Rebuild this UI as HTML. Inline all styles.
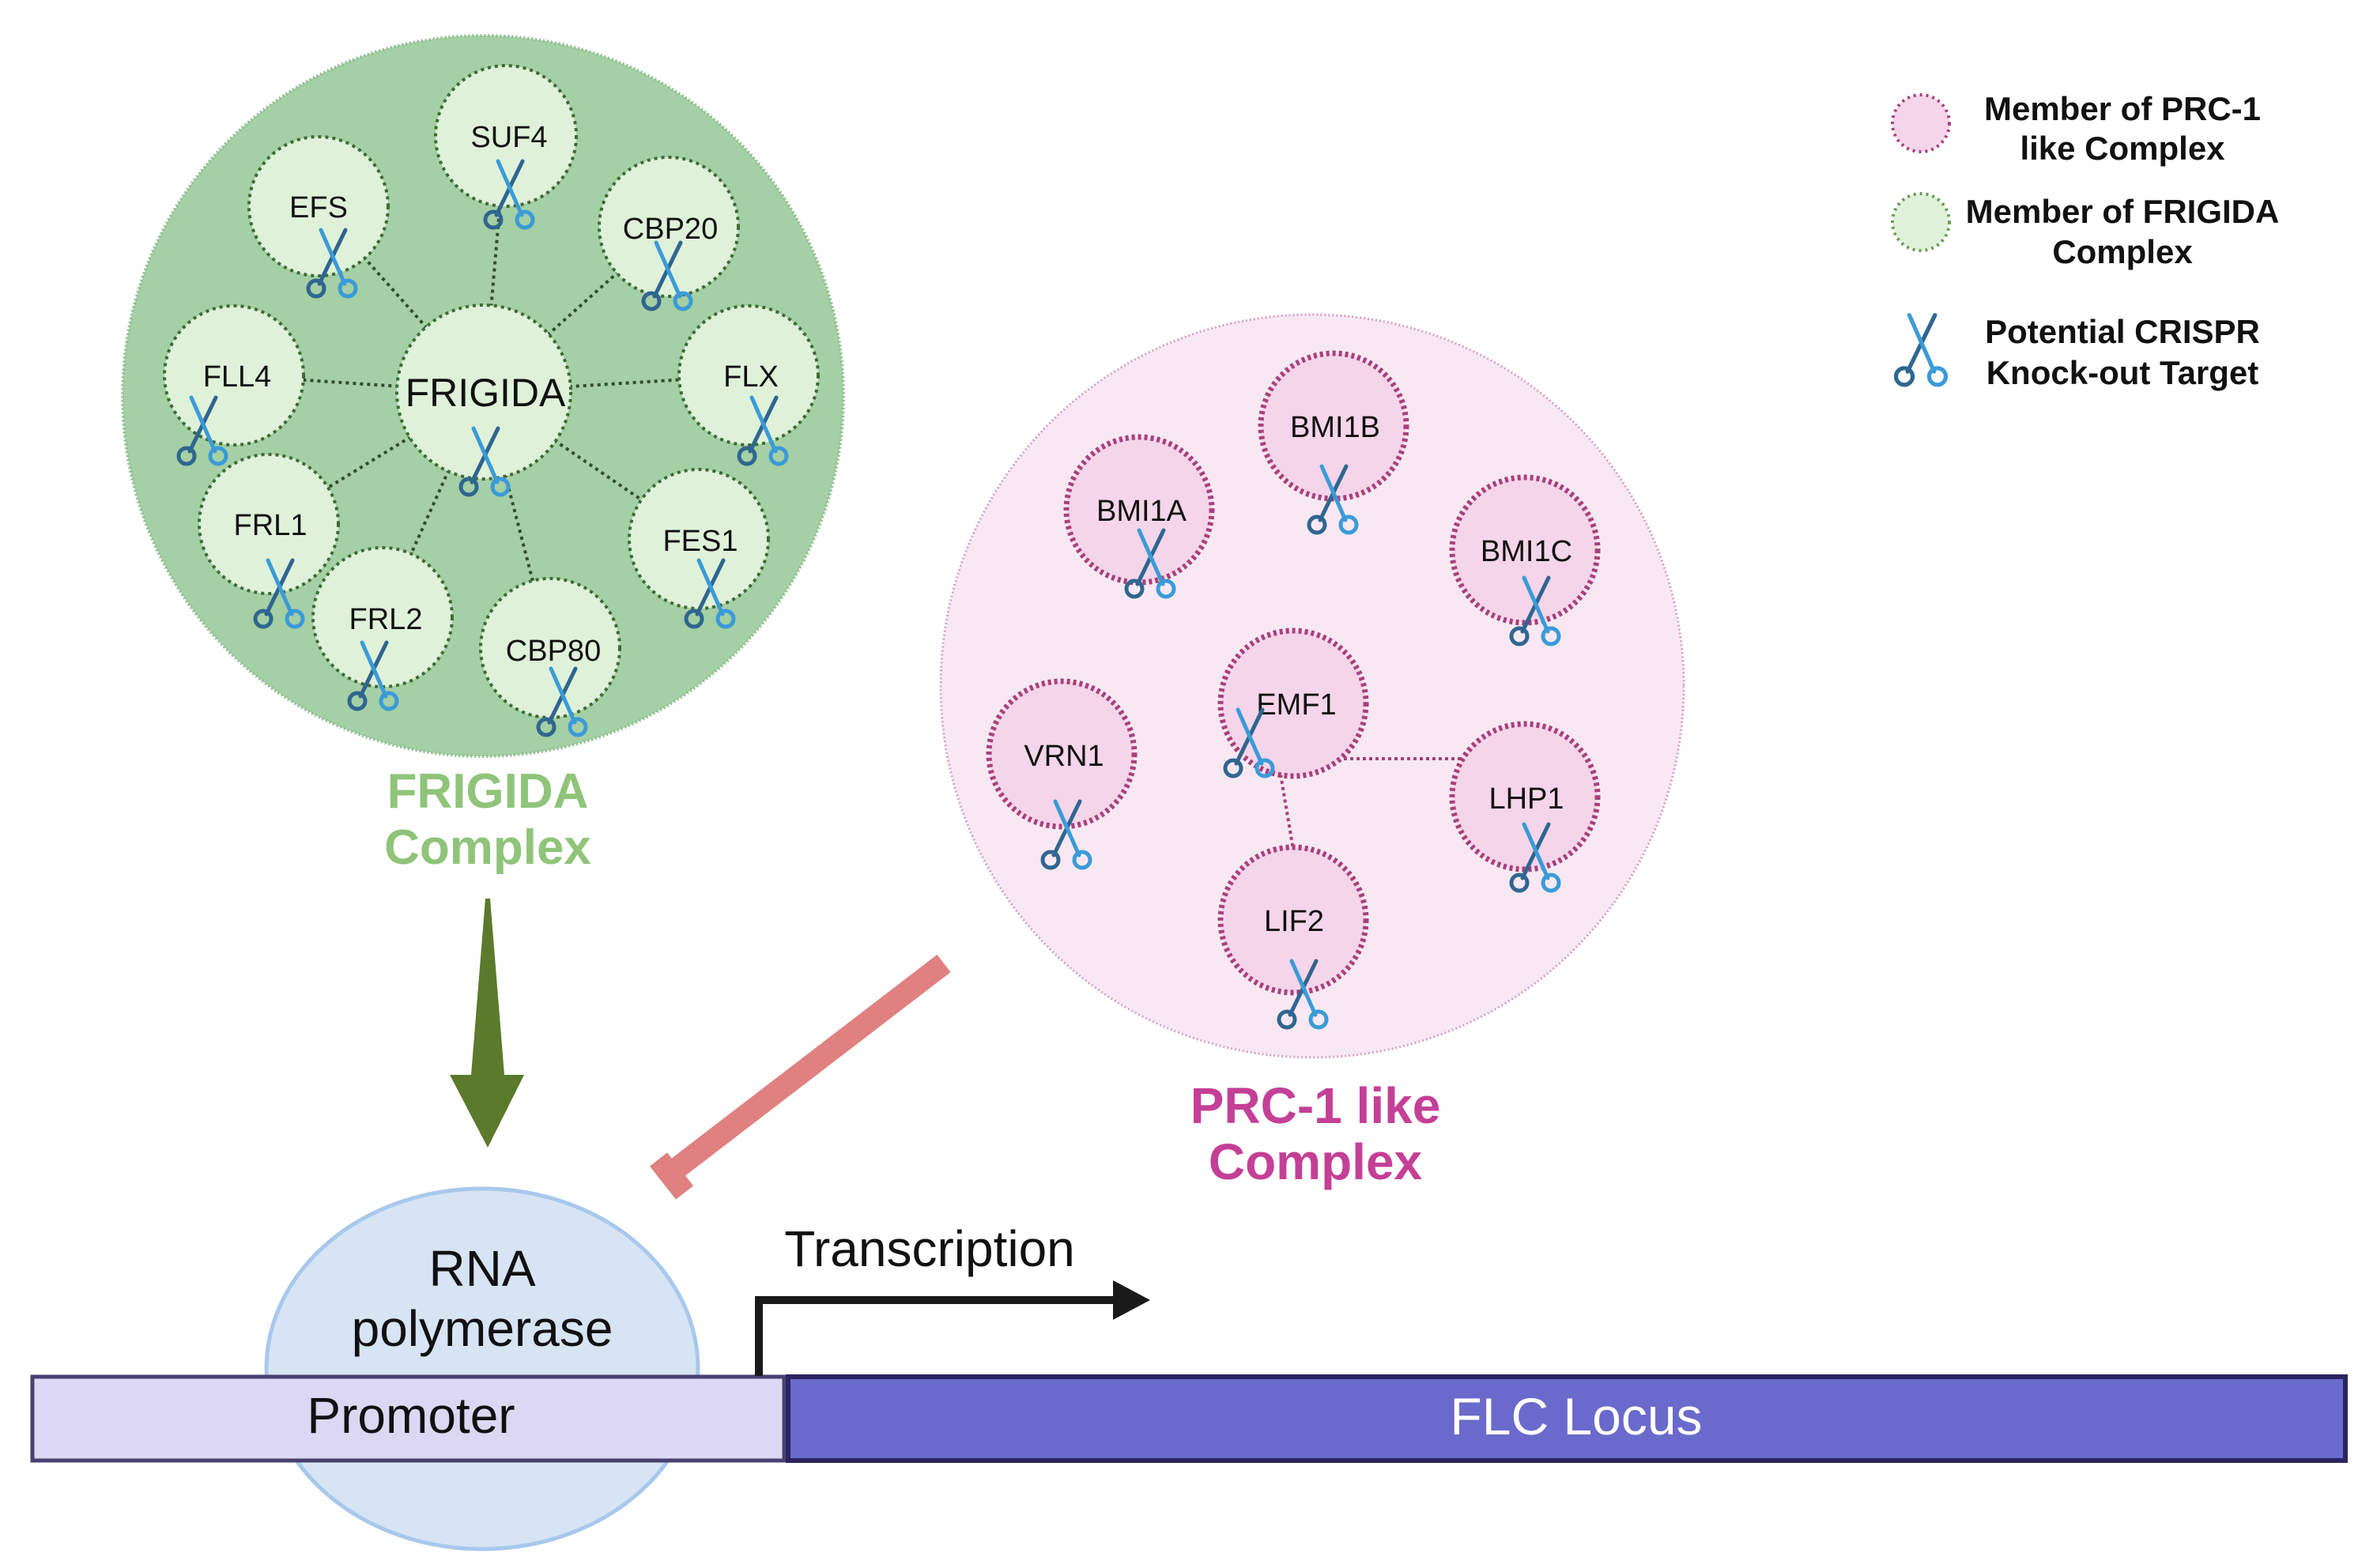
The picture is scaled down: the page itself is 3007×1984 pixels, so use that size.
<!DOCTYPE html>
<html><head><meta charset="utf-8"><style>html,body{margin:0;padding:0;background:#fff}svg{display:block}</style></head>
<body>
<svg width="3007" height="1984" viewBox="0 0 3007 1984" xmlns="http://www.w3.org/2000/svg" font-family="Liberation Sans, sans-serif">
<defs>
<g id="sc">
<line x1="17" y1="-46" x2="-16" y2="22" stroke="#2f6690" stroke-width="5" stroke-linecap="round"/>
<line x1="-14" y1="-46" x2="16" y2="22" stroke="#3a9bd8" stroke-width="5" stroke-linecap="round"/>
<circle cx="-20" cy="28" r="10" fill="none" stroke="#2f6690" stroke-width="5"/>
<circle cx="20" cy="28" r="10" fill="none" stroke="#3a9bd8" stroke-width="5"/>
</g>
</defs>

<!-- FRIGIDA complex -->
<circle cx="611" cy="501" r="456" fill="#a5cfa5" stroke="#8fbf8f" stroke-width="4" stroke-dasharray="2 3"/>
<g stroke="#2f4f2a" stroke-width="4" stroke-dasharray="4 5">
<line x1="612" y1="496" x2="403" y2="261"/><line x1="612" y1="496" x2="640" y2="172"/>
<line x1="612" y1="496" x2="846" y2="287"/><line x1="612" y1="496" x2="296" y2="475"/>
<line x1="612" y1="496" x2="947" y2="475"/><line x1="612" y1="496" x2="340" y2="663"/>
<line x1="612" y1="496" x2="884" y2="682"/><line x1="612" y1="496" x2="484" y2="781"/>
<line x1="612" y1="496" x2="696" y2="820"/>
</g>
<g fill="#dff2d9" stroke="#3d6b35" stroke-width="4" stroke-dasharray="4 5">
<circle cx="403" cy="261" r="88"/><circle cx="640" cy="172" r="89"/><circle cx="846" cy="287" r="88"/>
<circle cx="296" cy="475" r="88"/><circle cx="947" cy="475" r="88"/><circle cx="340" cy="663" r="88"/>
<circle cx="884" cy="682" r="88"/><circle cx="484" cy="781" r="88"/><circle cx="696" cy="820" r="88"/>
<circle cx="612" cy="496" r="110"/>
</g>
<g font-size="38" fill="#111" text-anchor="middle">
<text x="403" y="275">EFS</text><text x="644" y="186">SUF4</text><text x="848" y="302">CBP20</text>
<text x="300" y="489">FLL4</text><text x="950" y="489">FLX</text><text x="342" y="677">FRL1</text>
<text x="886" y="697">FES1</text><text x="488" y="796">FRL2</text><text x="700" y="836">CBP80</text>
<text x="614" y="514" font-size="50">FRIGIDA</text>
</g>
<use href="#sc" x="420" y="337"/><use href="#sc" x="644" y="250"/><use href="#sc" x="844" y="353"/>
<use href="#sc" x="256" y="549"/><use href="#sc" x="613" y="588"/><use href="#sc" x="965" y="549"/>
<use href="#sc" x="353" y="755"/><use href="#sc" x="898" y="755"/><use href="#sc" x="472" y="859"/>
<use href="#sc" x="711" y="892"/>
<g font-size="62" font-weight="bold" fill="#8fc47a" text-anchor="middle">
<text x="617" y="1022">FRIGIDA</text><text x="617" y="1093">Complex</text>
</g>

<!-- PRC-1 complex -->
<circle cx="1660" cy="868" r="470" fill="#f8e8f4" stroke="#d8a0c4" stroke-width="3" stroke-dasharray="2 3"/>
<g stroke="#a8407a" stroke-width="4" stroke-dasharray="4 4">
<line x1="1700" y1="960" x2="1850" y2="960"/><line x1="1620" y1="980" x2="1636" y2="1075"/>
</g>
<g fill="#f5d5ea" stroke="#a8407a" stroke-width="7" stroke-dasharray="4 4">
<circle cx="1687" cy="539" r="92"/><circle cx="1441" cy="645" r="92"/><circle cx="1929" cy="696" r="92"/>
<circle cx="1636" cy="890" r="92"/><circle cx="1343" cy="954" r="92"/><circle cx="1929" cy="1008" r="92"/>
<circle cx="1636" cy="1164" r="92"/>
</g>
<g font-size="38" fill="#111" text-anchor="middle">
<text x="1689" y="553">BMI1B</text><text x="1444" y="659">BMI1A</text><text x="1931" y="710">BMI1C</text>
<text x="1640" y="904">EMF1</text><text x="1346" y="969">VRN1</text><text x="1931" y="1023">LHP1</text>
<text x="1637" y="1178">LIF2</text>
</g>
<use href="#sc" x="1686" y="636"/><use href="#sc" x="1455" y="717"/><use href="#sc" x="1942" y="777"/>
<use href="#sc" x="1580" y="944"/><use href="#sc" x="1349" y="1060"/><use href="#sc" x="1942" y="1089"/>
<use href="#sc" x="1648" y="1262"/>
<g font-size="64" font-weight="bold" fill="#c43f96" text-anchor="middle">
<text x="1664" y="1421">PRC-1 like</text><text x="1664" y="1492">Complex</text>
</g>

<!-- Legend -->
<circle cx="2430" cy="156" r="36" fill="#f5d5ea" stroke="#a8407a" stroke-width="4" stroke-dasharray="3 5"/>
<circle cx="2430" cy="281" r="36" fill="#dff2d9" stroke="#6a9a5a" stroke-width="4" stroke-dasharray="3 5"/>
<g transform="translate(2430,447) scale(1.05)"><use href="#sc"/></g>
<g font-size="42" font-weight="bold" fill="#111" text-anchor="middle">
<text x="2685" y="152">Member of PRC-1</text><text x="2685" y="202">like Complex</text>
<text x="2685" y="282">Member of FRIGIDA</text><text x="2685" y="333">Complex</text>
<text x="2685" y="434">Potential CRISPR</text><text x="2685" y="486">Knock-out Target</text>
</g>

<!-- arrows -->
<polygon points="614,1137 620,1137 638,1360 663,1360 617,1452 569,1360 596,1360" fill="#5b7a2b"/>
<g stroke="#e08080" stroke-width="28">
<line x1="1194" y1="1219" x2="850" y2="1483"/>
<line x1="833" y1="1467" x2="866" y2="1509"/>
</g>

<!-- RNA polymerase, bars -->
<ellipse cx="610" cy="1732" rx="273" ry="228" fill="#d6e4f4" stroke="#a8c8ec" stroke-width="5"/>
<g font-size="64" fill="#111" text-anchor="middle">
<text x="610" y="1627">RNA</text><text x="610" y="1703">polymerase</text>
</g>
<rect x="41" y="1742" width="951" height="106" fill="#dcd8f4" stroke="#4a4070" stroke-width="5"/>
<rect x="997" y="1742" width="1970" height="106" fill="#6a6acc" stroke="#2a2460" stroke-width="6"/>
<text x="520" y="1813" font-size="64" fill="#111" text-anchor="middle">Promoter</text>
<text x="1994" y="1815" font-size="66" fill="#fff" text-anchor="middle">FLC Locus</text>
<polyline points="960,1741 960,1645 1415,1645" fill="none" stroke="#1a1a1a" stroke-width="10"/>
<polygon points="1408,1620 1455,1645 1408,1670" fill="#1a1a1a"/>
<text x="1176" y="1602" font-size="64" fill="#111" text-anchor="middle">Transcription</text>
</svg>
</body></html>
